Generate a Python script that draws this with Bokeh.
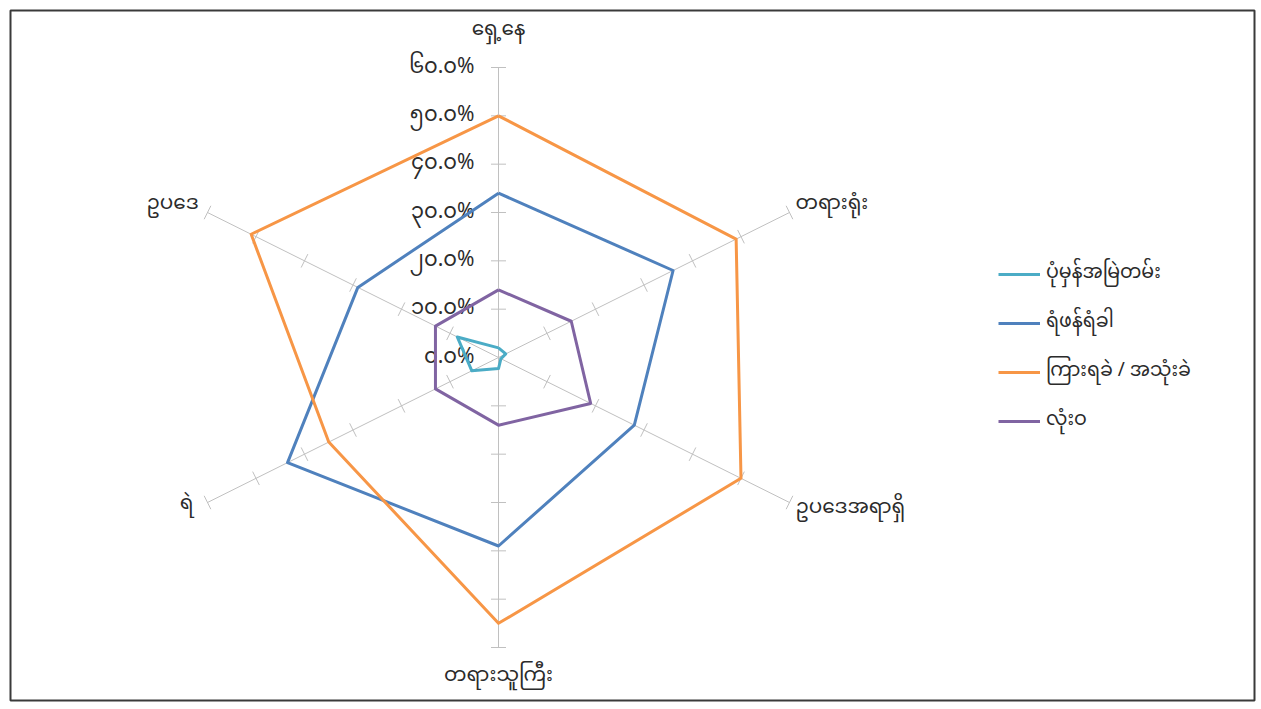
import math
from bokeh.plotting import figure
from bokeh.models import Range1d, Legend, LegendItem, ColumnDataSource
from bokeh.core.properties import value
from bokeh.embed import file_html
from bokeh.resources import INLINE

# ---- data ----
categories = ["ရှေ့နေ", "တရားရုံး", "ဥပဒေအရာရှိ", "တရားသူကြီး", "ရဲ", "ဥပဒေ"]
angles_deg = [90, 30, -30, -90, -150, 150]
series_names = ["ပုံမှန်အမြဲတမ်း", "ရံဖန်ရံခါ", "ကြားရခဲ / အသုံးခဲ", "လုံးဝ"]
always = [2.0, 1.5, 0.5, 2.3, 5.5, 8.5]
sometimes = [34.0, 36.0, 28.0, 39.0, 43.5, 29.0]
rarely = [50.0, 49.0, 50.0, 55.0, 35.0, 51.0]
never = [14.0, 15.0, 19.0, 14.0, 13.0, 13.0]
tick_values = [0, 10, 20, 30, 40, 50, 60]
tick_labels = ["၀.၀%", "၁၀.၀%", "၂၀.၀%", "၃၀.၀%", "၄၀.၀%", "၅၀.၀%", "၆၀.၀%"]

colors = ["#4BACC6", "#4F81BD", "#F79646", "#8064A2"]
FONT = "Noto Sans Myanmar, Padauk, Myanmar Text, Noto Sans, sans-serif"
TEXT_COLOR = "#2b2b2b"
RMAX = 60

# pixel scales (chart is stretched horizontally)
PXX = 336 / 60.0
PXY = 290 / 60.0
FW, FH = 1244, 690
CX, CY = 488, 347  # center in frame pixels

p = figure(width=FW + 12, height=FH + 12, output_backend="svg", toolbar_location=None,
           min_border_left=10, min_border_right=2, min_border_top=10, min_border_bottom=2,
           x_range=Range1d(-CX / PXX, (FW - CX) / PXX),
           y_range=Range1d(-(FH - CY) / PXY, CY / PXY))
p.axis.visible = False
p.grid.visible = False
p.outline_line_color = "#3a3a3a"
p.outline_line_width = 2
p.background_fill_color = "white"
p.border_fill_color = "white"

rad = [math.radians(a) for a in angles_deg]

# spokes
p.segment(x0=[0] * 6, y0=[0] * 6,
          x1=[RMAX * math.cos(a) for a in rad], y1=[RMAX * math.sin(a) for a in rad],
          line_color="#C0C0C0", line_width=1)

# tick marks perpendicular to spokes (in pixel space)
half = 7.5
tx0, ty0, tx1, ty1 = [], [], [], []
for a in rad:
    dxp, dyp = math.cos(a) * PXX, math.sin(a) * PXY
    n = math.hypot(dxp, dyp)
    ux, uy = dxp / n, dyp / n
    px, py = -uy, ux  # perpendicular, pixels
    for v in tick_values[1:]:
        x, y = v * math.cos(a), v * math.sin(a)
        tx0.append(x - px * half / PXX); ty0.append(y - py * half / PXY)
        tx1.append(x + px * half / PXX); ty1.append(y + py * half / PXY)
p.segment(x0=tx0, y0=ty0, x1=tx1, y1=ty1, line_color="#C0C0C0", line_width=1)

# tick labels along the top spoke
p.text(x=[-24 / PXX] * len(tick_values), y=tick_values, text=tick_labels,
       text_align="right", text_baseline="middle", text_font=value(FONT),
       text_font_size="21px", text_color=TEXT_COLOR)

# category labels
lx = [RMAX * math.cos(a) for a in rad]
ly = [RMAX * math.sin(a) for a in rad]
aligns = ["center", "left", "left", "center", "right", "right"]
xoff = [0, 6, 6, 0, -14, -9]
yoff = [-37, -8, 6, 29, 2, -8]
src = ColumnDataSource(dict(x=lx, y=ly, t=categories, a=aligns, xo=xoff, yo=yoff))
p.text(x="x", y="y", text="t", text_align="a", x_offset="xo", y_offset="yo",
       text_baseline="middle", text_font=value(FONT), text_font_size="20px",
       text_color=TEXT_COLOR, source=src)

# series
items = []
for name, vals, col in zip(series_names, [always, sometimes, rarely, never], colors):
    xs = [v * math.cos(a) for v, a in zip(vals, rad)]
    ys = [v * math.sin(a) for v, a in zip(vals, rad)]
    xs.append(xs[0]); ys.append(ys[0])
    r = p.line(xs, ys, line_color=col, line_width=3, line_join="round")
    items.append(LegendItem(label=name, renderers=[r]))

legend = Legend(items=items, location=(988, 259), orientation="vertical",
                glyph_width=42, glyph_height=20, label_height=20, spacing=8,
                label_standoff=6, padding=0, margin=0,
                border_line_color=None, background_fill_alpha=0,
                label_text_font=FONT, label_text_font_size="19px",
                label_text_color=TEXT_COLOR)
p.add_layout(legend, "center")

open("out.html", "w").write(file_html(p, INLINE))
